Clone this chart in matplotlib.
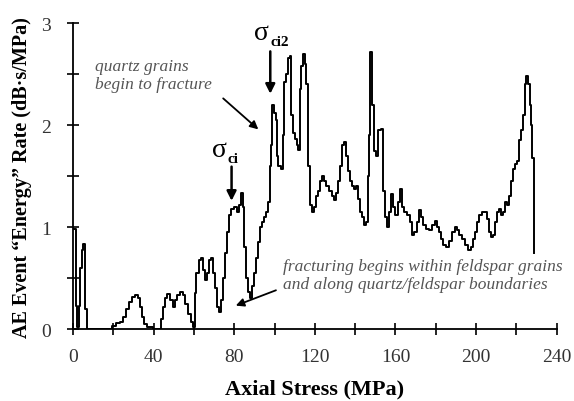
import matplotlib.pyplot as plt
from matplotlib.ticker import MultipleLocator

plt.rcParams['font.family'] = ['Liberation Serif', 'DejaVu Serif']

# axial stress (MPa) and AE energy rate (dB*s/MPa)
stress = [0, 1.3, 2.0, 3.0, 3.6, 4.3, 5.0, 5.9, 6.8,
          19.5, 21.5, 23.5, 25, 26.5, 28, 29.5, 31, 32.5, 33.5, 34.5, 35.5, 37, 39.5,
          43.5, 44.5, 45.5, 46.5, 48, 49.5, 50.5, 51.5, 53, 54.5, 55.5, 57, 58.5, 59.5,
          60.5, 61.3, 62.3, 63.5, 64.5, 65.5, 66.5, 67.5, 68.5, 69.5, 70.5, 71.5, 72.5,
          73.5, 74.5, 75.5, 76.5, 77.5, 78.5, 80, 81.5, 82.5, 83.5, 84.3, 85, 86, 87,
          88, 89, 90, 91, 92, 93, 94, 95, 96, 97, 97.7, 98.4, 99, 99.8, 100.5, 101.2,
          101.8, 103, 104, 104.8, 105.5, 106.5, 107.5, 108, 109, 110, 111, 111.8, 112.5,
          113.3, 114, 115, 115.8, 116.5, 117.5, 118.5, 119.5, 120.5, 121.5, 122.5, 123.5,
          124.5, 125.5, 127, 128.5, 129.5, 130.5, 131.5, 132.5, 133.5, 134.5, 135.5,
          136.5, 137.5, 138.5, 139.5, 140.5, 141.5, 142.5, 143.5, 144.5, 145.5, 146.3,
          147, 147.5, 148.3, 149.2, 150.5, 151.5, 153, 154, 155, 156, 157, 158, 159, 160,
          161, 162, 163, 164, 165.5, 167, 168, 169, 170.5, 171.5, 172.5, 173.5, 175,
          176.5, 178, 179.5, 180.5, 181.5, 182.5, 183.5, 185, 186.5, 188, 189.5, 190.5,
          191.5, 193, 194.5, 196, 197.5, 198.5, 199.5, 200.5, 201.5, 203, 204.5, 205.5,
          206.5, 207.5, 208.5, 209.5, 210.5, 211.5, 212.5, 213.5, 214.5, 215.5, 216.5,
          217.5, 218.5, 219.5, 220.5, 221.5, 222.5, 223.3, 224, 224.7, 225.7, 226.5,
          227.2, 227.8, 228.6]
energy = [0.98, 0.23, 0.02, 0.23, 0.6, 0.78, 0.83, 0.2, 0.0,
          0.03, 0.06, 0.07, 0.12, 0.2, 0.27, 0.31, 0.33, 0.3, 0.22, 0.12, 0.05, 0.02, 0.0,
          0.1, 0.22, 0.3, 0.34, 0.28, 0.22, 0.28, 0.33, 0.36, 0.33, 0.25, 0.15, 0.07, 0.02,
          0.35, 0.55, 0.68, 0.7, 0.58, 0.48, 0.55, 0.68, 0.7, 0.55, 0.4, 0.22, 0.17,
          0.28, 0.5, 0.75, 0.95, 1.12, 1.18, 1.2, 1.15, 1.22, 1.33, 1.2, 0.8, 0.5, 0.36,
          0.3, 0.42, 0.55, 0.7, 0.85, 1.0, 1.05, 1.1, 1.15, 1.25, 1.6, 1.8, 2.2, 2.12, 2.05, 1.7,
          1.6, 1.57, 1.9, 2.42, 2.5, 2.66, 2.68, 2.1, 1.92, 1.86, 1.8, 1.76, 2.35,
          2.58, 2.7, 2.6, 2.4, 1.6, 1.22, 1.15, 1.2, 1.3, 1.35, 1.45, 1.5,
          1.45, 1.4, 1.35, 1.3, 1.27, 1.33, 1.45, 1.6, 1.8, 1.83, 1.7,
          1.55, 1.45, 1.4, 1.37, 1.4, 1.28, 1.15, 1.1, 1.02, 1.05, 1.5,
          1.9, 2.72, 2.2, 1.75, 1.7, 1.95, 1.96, 1.35, 1.1, 1.0, 1.15, 1.32, 1.2, 1.12,
          1.25, 1.37, 1.2, 1.15, 1.12, 1.05, 0.92, 0.95, 1.05, 1.17, 1.1, 1.02, 0.98,
          0.97, 1.02, 1.06, 1.0, 0.95, 0.88, 0.82, 0.8, 0.86, 0.95, 1.0, 0.97,
          0.92, 0.88, 0.82, 0.78, 0.8, 0.88, 0.95, 1.05, 1.12, 1.15, 1.15, 1.08,
          0.95, 0.9, 0.92, 1.05, 1.15, 1.18, 1.12, 1.15, 1.25, 1.22, 1.3,
          1.45, 1.57, 1.62, 1.65, 1.85, 1.95, 2.1, 2.4, 2.48, 2.4, 2.2,
          2.0, 1.68, 0.75]

x_ticks = [0, 40, 80, 120, 160, 200, 240]
y_ticks = [0, 1, 2, 3]

fig = plt.figure(figsize=(5.74, 4.02), dpi=100)
ax = fig.add_axes([0.127, 0.179, 0.843, 0.761])

ax.step(stress, energy, where='post', color='black', lw=1.4)

ax.set_xlim(0, 240)
ax.set_ylim(0, 3)
ax.set_xticks(x_ticks)
ax.set_yticks(y_ticks)
ax.xaxis.set_minor_locator(MultipleLocator(20))
ax.yaxis.set_minor_locator(MultipleLocator(0.5))
for s in ['top', 'right']:
    ax.spines[s].set_visible(False)
for s in ['left', 'bottom']:
    ax.spines[s].set_linewidth(1.3)
ax.tick_params(which='both', direction='inout', length=8, width=1.2)
ax.tick_params(axis='x', labelsize=14, pad=10, labelcolor='#333333')
ax.tick_params(axis='y', labelsize=14, pad=12, labelcolor='#333333')

ax.set_xlabel('Axial Stress (MPa)', fontsize=16, fontweight='bold', labelpad=9)
ax.set_ylabel('AE Event \u201cEnergy\u201d Rate (dB\u00b7s/MPa)', fontsize=14.5, fontweight='bold', labelpad=6)

# stress threshold markers
ax.annotate('', xy=(78.7, 1.23), xytext=(78.7, 1.62),
            arrowprops=dict(arrowstyle='-|>', color='black', lw=1.8, mutation_scale=14))
ax.text(72.5, 1.76, '\u03c3', fontsize=20, ha='center', va='center')
ax.text(79.5, 1.67, 'ci', fontsize=11, fontweight='bold', ha='center', va='center')
ax.annotate('', xy=(97.9, 2.28), xytext=(97.9, 2.75),
            arrowprops=dict(arrowstyle='-|>', color='black', lw=1.8, mutation_scale=14))
ax.text(93.5, 2.91, '\u03c3', fontsize=20, ha='center', va='center')
ax.text(102.5, 2.82, 'ci2', fontsize=11, fontweight='bold', ha='center', va='center')

# comments
ax.text(11, 2.49, 'quartz grains\nbegin to fracture', fontsize=12.5, style='italic',
        color='#555555', ha='left', va='center', linespacing=1.2)
ax.annotate('', xy=(93, 1.94), xytext=(73.5, 2.28),
            arrowprops=dict(arrowstyle='-|>', color='black', lw=1.3, mutation_scale=12))
ax.text(104, 0.53, 'fracturing begins within feldspar grains\nand along quartz/feldspar boundaries',
        fontsize=12.5, style='italic', color='#555555', ha='left', va='center', linespacing=1.2)
ax.annotate('', xy=(79.5, 0.22), xytext=(102, 0.39),
            arrowprops=dict(arrowstyle='-|>', color='black', lw=1.3, mutation_scale=12))

fig.savefig('out.png', dpi=100)
